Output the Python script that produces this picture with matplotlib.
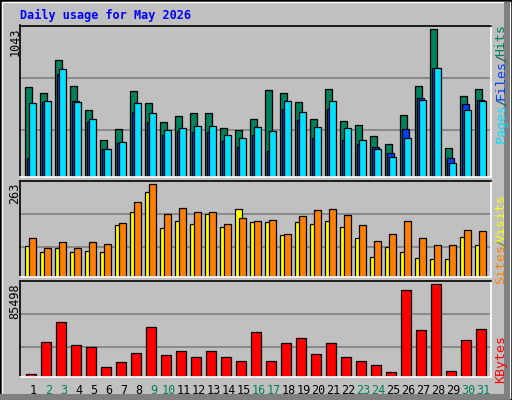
import matplotlib
matplotlib.use("Agg")
import matplotlib.pyplot as plt
from matplotlib.patches import Rectangle

days = list(range(1, 32))
weekend = [2, 3, 9, 10, 16, 17, 23, 24, 30, 31]
hits = [632, 590, 824, 640, 470, 264, 335, 604, 519, 385, 427, 448, 448, 342, 328, 406,
        611, 590, 526, 406, 618, 392, 370, 286, 236, 434, 640, 1043, 201, 569, 618]
files = [137, 526, 724, 533, 385, 194, 243, 455, 385, 293, 321, 314, 314, 257, 215, 293,
         186, 477, 399, 278, 477, 264, 236, 215, 172, 335, 555, 767, 137, 512, 540]
pages = [519, 533, 760, 526, 406, 194, 250, 519, 448, 328, 342, 363, 363, 293, 278, 356,
         321, 533, 455, 356, 533, 342, 264, 194, 144, 278, 540, 767, 101, 470, 533]
sites = [86, 71, 80, 71, 74, 69, 146, 183, 240, 137, 157, 149, 177, 140, 192, 154,
         154, 117, 154, 149, 157, 140, 109, 57, 83, 71, 54, 51, 51, 112, 89]
visits = [109, 80, 97, 80, 97, 94, 152, 212, 263, 177, 194, 183, 183, 149, 166, 157,
          160, 120, 172, 189, 192, 174, 146, 100, 120, 157, 109, 91, 91, 132, 129]
kbytes = [3120, 32136, 50856, 29328, 27456, 9672, 13416, 21840, 46176, 19968, 23712,
          18096, 23712, 18096, 14352, 41496, 14352, 31200, 35880, 20904, 31200, 18096,
          14352, 10608, 4992, 79872, 43368, 85498, 5928, 34008, 44304]

W, H = 512, 400
BG = "#C0C0C0"
fig = plt.figure(figsize=(W / 100, H / 100), dpi=100, facecolor=BG)
mono = "DejaVu Sans Mono"

def px_axes(x0, y0, x1, y1):
    return fig.add_axes([x0 / W, 1 - y1 / H, (x1 - x0) / W, (y1 - y0) / H])

def style(ax, ymax):
    ax.set_facecolor(BG)
    ax.set_xlim(0, 471 / 15)
    ax.set_ylim(0, ymax)
    ax.set_xticks([]); ax.set_yticks([])
    for f in (0.31, 0.655):
        ax.axhline(ymax * f, color="#808080", lw=1.2, zorder=0)
    for s in ("top", "left"):
        ax.spines[s].set_color("black")
    for s in ("bottom", "right"):
        ax.spines[s].set_color("white")
    for s in ax.spines.values():
        s.set_linewidth(1.2)

x = [d - 1 for d in days]
ek = dict(edgecolor="black", linewidth=0.9, align="edge")

ax1 = px_axes(20, 25.5, 491, 177)
style(ax1, 1068)
ax1.bar([v + 0.35 for v in x], hits, width=0.47, color="#00805C", **ek)
ax1.bar([v + 0.45 for v in x], files, width=0.5, color="#0040FF", **ek)
ax1.bar([v + 0.62 for v in x], pages, width=0.47, color="#00E0FF", **ek)

ax2 = px_axes(20, 180.5, 491, 276.5)
style(ax2, 273.6)
ax2.bar([v + 0.35 for v in x], sites, width=0.47, color="#FFFF00", **ek)
ax2.bar([v + 0.62 for v in x], visits, width=0.47, color="#FF8000", **ek)

ax3 = px_axes(20, 280.5, 491, 377)
style(ax3, 89000)
ax3.bar([v + 0.42 for v in x], kbytes, width=0.67, color="#FF0000", **ek)

# title
fig.text(20 / W, 1 - 15 / H, "Daily usage for May 2026", color="#0000FF",
         fontsize=8.5, fontweight="bold", family=mono, va="center", ha="left")

# max labels
for txt, ytop in (("1043", 27), ("263", 183), ("85498", 283)):
    fig.text(15 / W, 1 - ytop / H, txt, rotation=90, fontsize=8.5, family=mono,
             ha="center", va="top", color="black")

# right legends
def rlabel(txt, yc, color):
    fig.text(501 / W, 1 - yc / H, txt, rotation=90, fontsize=9.5, family=mono,
             ha="center", va="center", color=color)

rlabel("Pages", 123, "#00E0FF")
rlabel("/", 102, "#006060")
rlabel("Files", 80, "#0040FF")
rlabel("/", 58.5, "#006060")
rlabel("Hits", 40, "#00805C")
rlabel("Sites", 264, "#FF8000")
rlabel("/", 243, "#808000")
rlabel("Visits", 218, "#FFFF00")
rlabel("KBytes", 359, "#FF0000")

# day labels
for d in days:
    fig.text((20 + (d - 1) * 15 + 13.5) / W, 1 - 390 / H, str(d), fontsize=8.5,
             family=mono, ha="center", va="center",
             color="#00805C" if d in weekend else "black")

# bevel frame
fig.patches.append(Rectangle((0, 0), 1, 1, transform=fig.transFigure, fill=False,
                             edgecolor="black", lw=2))
fig.patches.append(Rectangle((2 / W, 2 / H), 1 - 4 / W, 1 - 4 / H, transform=fig.transFigure,
                             fill=False, edgecolor="white", lw=1))
fig.patches.append(Rectangle((0, 0), 1 - 2 / W, 6 / H, transform=fig.transFigure,
                             color="#808080", lw=0))
fig.patches.append(Rectangle((1 - 8 / W, 0), 6 / W, 1 - 2 / H, transform=fig.transFigure,
                             color="#808080", lw=0))

fig.savefig("out.png", dpi=100, facecolor=BG)
